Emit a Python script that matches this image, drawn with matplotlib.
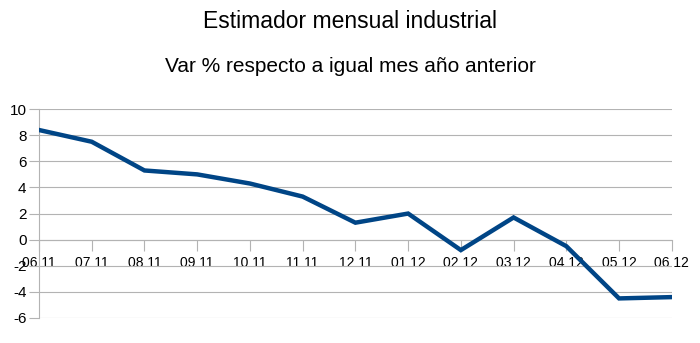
import matplotlib
matplotlib.use('Agg')
import matplotlib.pyplot as plt

meses = ['06 11', '07 11', '08 11', '09 11', '10 11', '11 11', '12 11',
         '01 12', '02 12', '03 12', '04 12', '05 12', '06 12']
var_pct = [8.4, 7.5, 5.3, 5.0, 4.3, 3.3, 1.3, 2.0, -0.8, 1.7, -0.5, -4.5, -4.4]
yticks = [-6, -4, -2, 0, 2, 4, 6, 8, 10]

plt.rcParams['font.family'] = ['Liberation Sans', 'DejaVu Sans']

fig = plt.figure(figsize=(7, 3.43), dpi=100)
ax = fig.add_axes([0.0557, 0.0729, 0.904, 0.609])

x = list(range(len(meses)))
ax.plot(x, var_pct, color='#004586', lw=3.2, solid_joinstyle='miter', zorder=3)

ax.set_xlim(0, len(meses) - 1)
ax.set_ylim(-6, 10)
ax.set_yticks(yticks)
ax.set_yticklabels([str(v) for v in yticks], fontsize=11)
ax.set_xticks(x)
ax.set_xticklabels(meses, fontsize=11)

ax.grid(axis='y', color='#b3b3b3', lw=0.8)
ax.set_axisbelow(True)
for s in ['top', 'right']:
    ax.spines[s].set_visible(False)
ax.spines['left'].set_color('#b3b3b3')
ax.spines['bottom'].set_position(('data', 0))
ax.spines['bottom'].set_color('#b3b3b3')
ax.tick_params(axis='x', direction='out', length=8, color='#b3b3b3', pad=4)
ax.tick_params(axis='y', direction='out', length=7, color='#b3b3b3', pad=2)

fig.text(0.5, 0.938, 'Estimador mensual industrial', ha='center', va='center', fontsize=16.5)
fig.text(0.5, 0.805, 'Var % respecto a igual mes año anterior', ha='center', va='center', fontsize=15)

fig.savefig('out.png', dpi=100)
